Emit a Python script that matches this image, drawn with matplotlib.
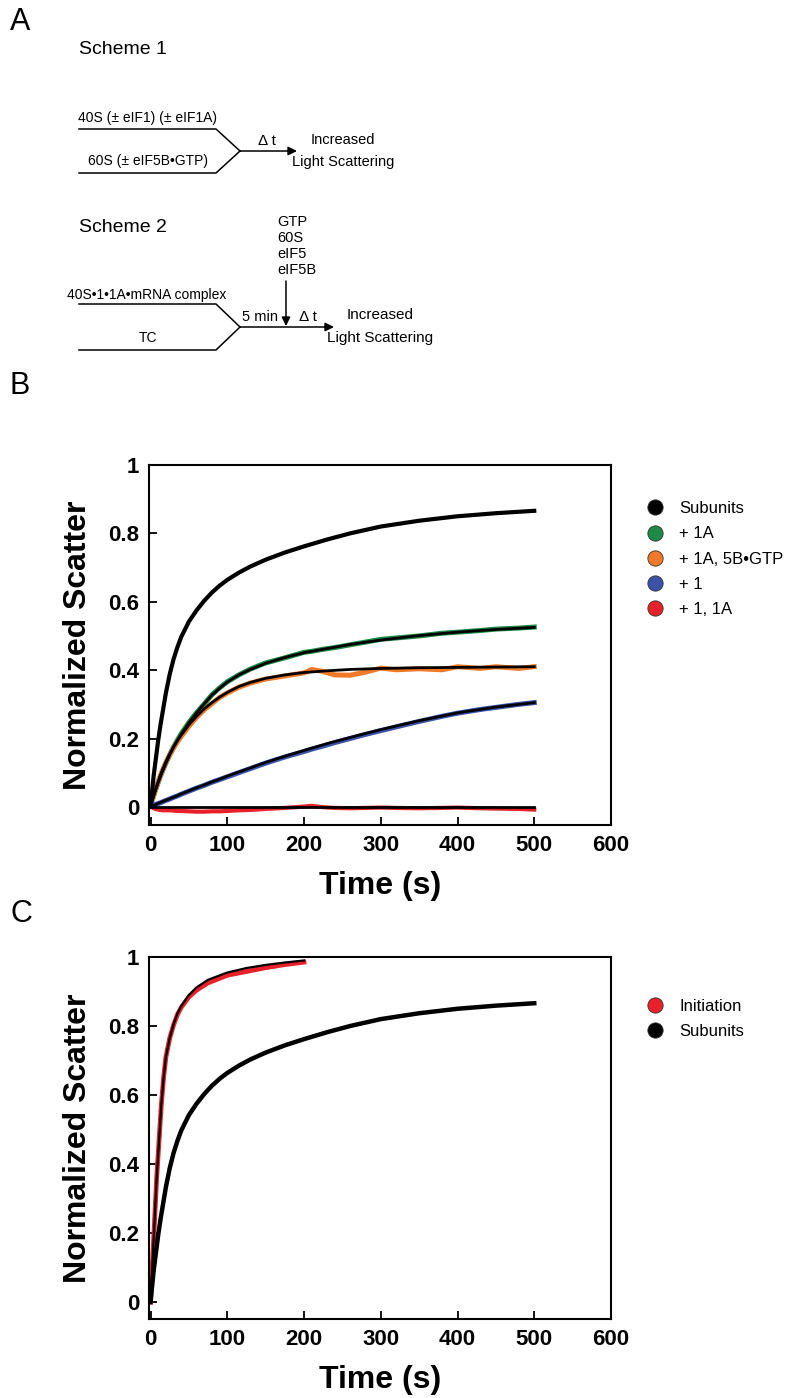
import numpy as np
import matplotlib
matplotlib.use('Agg')
import matplotlib.pyplot as plt
from matplotlib.lines import Line2D

plt.rcParams['font.family'] = ['Liberation Sans', 'DejaVu Sans']

# ---- data (time in s, normalized scatter) ----
# fitted curves
t_fit = [0, 2, 4, 6, 8, 10, 13, 16, 20, 25, 30, 35, 40, 50, 60, 70, 80, 90, 100,
         115, 130, 150, 175, 200, 230, 260, 300, 350, 400, 450, 500]
subunits = [0.0, 0.045, 0.09, 0.125, 0.16, 0.195, 0.24, 0.28, 0.333, 0.388, 0.432, 0.467, 0.497, 0.542,
            0.575, 0.603, 0.627, 0.647, 0.664, 0.685, 0.703, 0.723, 0.744, 0.762, 0.782, 0.8,
            0.82, 0.837, 0.85, 0.859, 0.866]
plus_1A = [0.0, 0.016, 0.031, 0.045, 0.058, 0.071, 0.089, 0.106, 0.127, 0.152, 0.174, 0.194, 0.213,
           0.246, 0.275, 0.302, 0.327, 0.347, 0.365, 0.386, 0.402, 0.42, 0.437, 0.451, 0.463,
           0.475, 0.488, 0.501, 0.511, 0.519, 0.525]
plus_1A_5B = [0.0, 0.017, 0.033, 0.048, 0.062, 0.075, 0.094, 0.111, 0.132, 0.155, 0.176, 0.194, 0.21,
              0.24, 0.265, 0.287, 0.305, 0.321, 0.335, 0.352, 0.364, 0.376, 0.386, 0.393, 0.398,
              0.402, 0.405, 0.407, 0.408, 0.409, 0.41]
plus_1 = [0.0, 0.002, 0.004, 0.006, 0.008, 0.01, 0.013, 0.016, 0.019, 0.024, 0.028, 0.033, 0.038,
          0.047, 0.056, 0.064, 0.073, 0.081, 0.09, 0.102, 0.114, 0.13, 0.148, 0.165, 0.185,
          0.203, 0.226, 0.252, 0.275, 0.292, 0.305]
plus_1_1A = [0.0] * len(t_fit)

# measured traces
t_dat = [0, 2, 4, 6, 8, 10, 13, 16, 20, 25, 30, 35, 40, 50, 60, 70, 80, 90, 100, 115, 130, 150,
         175, 200, 210, 225, 240, 260, 280, 300, 320, 350, 380, 400, 430, 450, 480, 500]
dat_1A = [0.02, 0.02, 0.032, 0.046, 0.059, 0.072, 0.09, 0.107, 0.128, 0.153, 0.175, 0.195, 0.214,
          0.247, 0.276, 0.301, 0.328, 0.348, 0.366, 0.386, 0.403, 0.421, 0.436, 0.452, 0.455, 0.461,
          0.466, 0.474, 0.482, 0.49, 0.494, 0.5, 0.508, 0.511, 0.516, 0.52, 0.523, 0.526]
dat_1A_5B = [0.02, 0.018, 0.033, 0.047, 0.06, 0.073, 0.092, 0.109, 0.13, 0.152, 0.172, 0.19, 0.206,
             0.236, 0.262, 0.284, 0.302, 0.32, 0.333, 0.35, 0.362, 0.374, 0.383, 0.392, 0.402,
             0.396, 0.386, 0.385, 0.394, 0.406, 0.401, 0.404, 0.401, 0.41, 0.405, 0.41, 0.405, 0.41]
dat_1 = [0.02, 0.006, 0.005, 0.007, 0.008, 0.01, 0.012, 0.015, 0.019, 0.023, 0.028, 0.032, 0.037,
         0.046, 0.055, 0.063, 0.072, 0.08, 0.088, 0.1, 0.112, 0.128, 0.146, 0.162, 0.169, 0.178,
         0.188, 0.2, 0.212, 0.223, 0.234, 0.25, 0.265, 0.274, 0.285, 0.291, 0.3, 0.305]
dat_1_1A = [0.02, 0.0, -0.004, -0.006, -0.007, -0.008, -0.009, -0.01, -0.01, -0.01, -0.011, -0.012,
            -0.012, -0.013, -0.014, -0.014, -0.013, -0.013, -0.012, -0.01, -0.009, -0.006, -0.003,
            0.001, 0.003, -0.001, -0.003, -0.004, -0.003, -0.002, -0.003, -0.004, -0.003, -0.002,
            -0.004, -0.005, -0.006, -0.008]

t_init = [0, 2, 4, 6, 8, 10, 12, 14, 17, 20, 25, 30, 35, 40, 50, 60, 75, 100, 125, 150, 175, 200]
initiation = [0.0, 0.09, 0.18, 0.27, 0.36, 0.43, 0.50, 0.57, 0.65, 0.71, 0.765, 0.805, 0.836, 0.858,
              0.89, 0.912, 0.934, 0.955, 0.968, 0.977, 0.984, 0.99]
dat_init = [0.0, 0.09, 0.18, 0.27, 0.36, 0.43, 0.50, 0.57, 0.65, 0.71, 0.765, 0.803, 0.833, 0.854,
            0.884, 0.904, 0.925, 0.947, 0.958, 0.969, 0.978, 0.985]

labels_B = ['Subunits', '+ 1A', '+ 1A, 5B•GTP', '+ 1', '+ 1, 1A']
colors_B = ['#000000', '#1a8a45', '#f07a28', '#3a52a8', '#e8202a']
labels_C = ['Initiation', 'Subunits']
colors_C = ['#e8202a', '#000000']

xticks = [0, 100, 200, 300, 400, 500, 600]
yticks = [0, 0.2, 0.4, 0.6, 0.8, 1]
ytick_labels = ['0', '0.2', '0.4', '0.6', '0.8', '1']

W, H = 792, 1398
fig = plt.figure(figsize=(W / 100, H / 100), dpi=100)

# ---- panel A: reaction schemes, drawn in pixel coordinates ----
axA = fig.add_axes([0, 0, 1, 1])
axA.set_xlim(0, W)
axA.set_ylim(H, 0)
axA.axis('off')

lw = 1.1
fs = 10
arrow = dict(arrowstyle='-|>', color='k', lw=lw, mutation_scale=13, shrinkA=0, shrinkB=0)
axA.text(10, 30, 'A', fontsize=22, va='baseline')
axA.text(79, 50, 'Scheme 1', fontsize=14, va='center')
axA.plot([79, 216, 240], [129, 129, 151], color='k', lw=lw)
axA.plot([79, 216, 240], [173, 173, 151], color='k', lw=lw)
axA.annotate('', xy=(297, 151), xytext=(240, 151), arrowprops=arrow)
axA.text(148, 118, '40S (± eIF1) (± eIF1A)', fontsize=fs, ha='center', va='center')
axA.text(148, 161, '60S (± eIF5B•GTP)', fontsize=fs, ha='center', va='center')
axA.text(267, 141, 'Δ t', fontsize=fs + 1, ha='center', va='center')
axA.text(343, 140, 'Increased', fontsize=fs + 0.5, ha='center', va='center')
axA.text(343, 162, 'Light Scattering', fontsize=fs + 0.5, ha='center', va='center')

axA.text(79, 227, 'Scheme 2', fontsize=14, va='center')
for i, s in enumerate(['GTP', '60S', 'eIF5', 'eIF5B']):
    axA.text(277, 222 + 16 * i, s, fontsize=fs + 0.5, va='center')
axA.annotate('', xy=(286, 326), xytext=(286, 281), arrowprops=arrow)
axA.plot([79, 216, 240], [304, 304, 327], color='k', lw=lw)
axA.plot([79, 216, 240], [350, 350, 327], color='k', lw=lw)
axA.annotate('', xy=(334, 327), xytext=(240, 327), arrowprops=arrow)
axA.text(147, 295, '40S•1•1A•mRNA complex', fontsize=fs, ha='center', va='center')
axA.text(148, 338, 'TC', fontsize=fs, ha='center', va='center')
axA.text(260, 317, '5 min', fontsize=fs + 0.5, ha='center', va='center')
axA.text(308, 317, 'Δ t', fontsize=fs + 1, ha='center', va='center')
axA.text(380, 315, 'Increased', fontsize=11, ha='center', va='center')
axA.text(380, 338, 'Light Scattering', fontsize=11, ha='center', va='center')

axA.text(10, 394, 'B', fontsize=22, va='baseline')
axA.text(10, 922, 'C', fontsize=22, va='baseline')


def style_axes(ax, ymin):
    ax.set_xlim(-2, 600)
    ax.set_ylim(ymin, 1.0)
    ax.set_xticks(xticks)
    ax.set_yticks(yticks)
    ax.set_yticklabels(ytick_labels)
    ax.tick_params(direction='in', length=6, width=1.3, labelsize=16)
    ax.tick_params(axis='y', pad=7)
    ax.tick_params(axis='x', pad=7)
    for lab in ax.get_xticklabels() + ax.get_yticklabels():
        lab.set_fontweight('bold')
    for sp in ax.spines.values():
        sp.set_linewidth(1.5)
    ax.set_xlabel('Time (s)', fontsize=23, fontweight='bold', labelpad=11)
    ax.set_ylabel('Normalized Scatter', fontsize=23, fontweight='bold', labelpad=11)


def legend(ax, labels, colors, ytop):
    handles = [Line2D([], [], ls='', marker='o', markersize=11, markerfacecolor=c,
                      markeredgecolor='#333333', markeredgewidth=0.6) for c in colors]
    ax.legend(handles, labels, loc='upper left', bbox_to_anchor=(1.062, ytop), frameon=False,
              fontsize=12, handlelength=1.0, handletextpad=0.98, labelspacing=0.61, borderaxespad=0)


# ---- panel B ----
axB = fig.add_axes([149 / W, 1 - 825 / H, 462 / W, 360 / H])
axB.plot(t_dat, dat_1A, color=colors_B[1], lw=3.6)
axB.plot(t_dat, dat_1A_5B, color=colors_B[2], lw=3.6)
axB.plot(t_dat, dat_1, color=colors_B[3], lw=3.6)
axB.plot(t_dat, dat_1_1A, color=colors_B[4], lw=3.0)
for y in [plus_1A, plus_1A_5B, plus_1, plus_1_1A]:
    axB.plot(t_fit, y, color='k', lw=2.0)
axB.plot(t_fit, subunits, color='k', lw=3.0)
style_axes(axB, -0.053)
legend(axB, labels_B, colors_B, 0.918)

# ---- panel C ----
axC = fig.add_axes([149 / W, 1 - 1319 / H, 462 / W, 362 / H])
axC.plot(t_init, dat_init, color=colors_C[0], lw=3.4)
axC.plot(t_init, initiation, color='k', lw=1.6)
axC.plot(t_fit, subunits, color='k', lw=3.2)
style_axes(axC, -0.049)
legend(axC, labels_C, colors_C, 0.902)

fig.savefig('out.png', dpi=100)
